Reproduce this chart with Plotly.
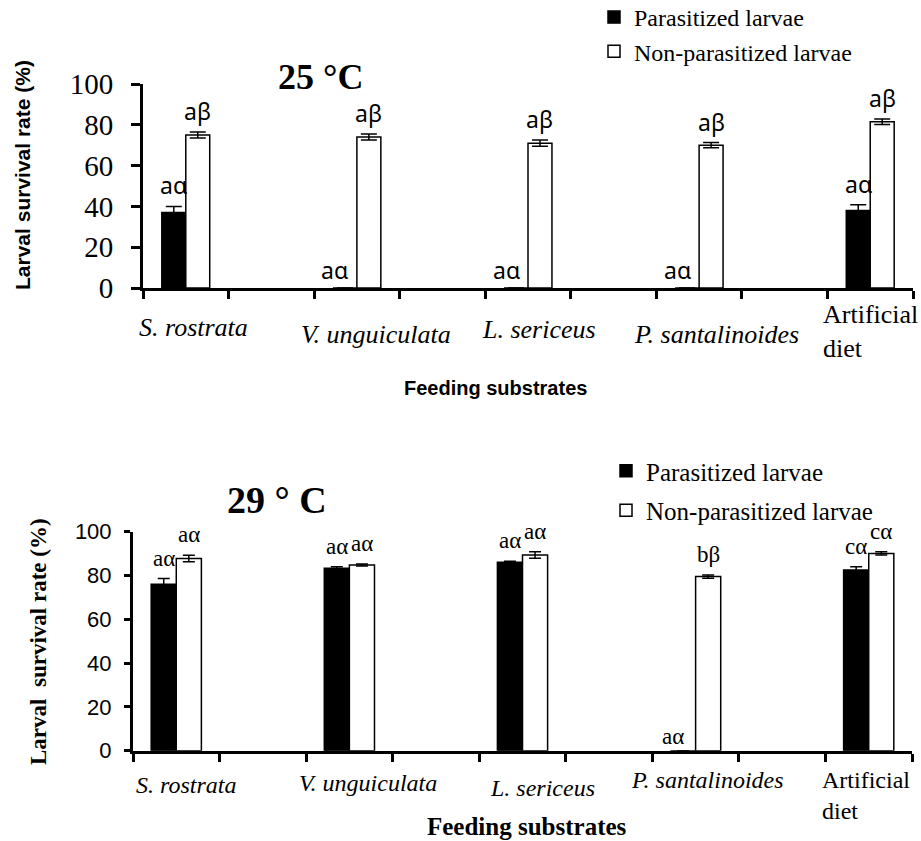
import plotly.graph_objects as go

# ---------------- data ----------------
substrates = ["S. rostrata", "V. unguiculata", "L. sericeus", "P. santalinoides", "Artificial<br>diet"]
italic_label = [True, True, True, True, False]
series_names = ["Parasitized larvae", "Non-parasitized larvae"]

# 25 °C
par25 = [37.0, 0.0, 0.0, 0.0, 38.0]
par25_err = [3.0, 0.0, 0.0, 0.0, 2.8]
non25 = [75.0, 74.0, 71.0, 70.0, 81.5]
non25_err = [1.5, 1.5, 1.5, 1.3, 1.3]
par25_lab = ["aα", "aα", "aα", "aα", "aα"]
non25_lab = ["aβ", "aβ", "aβ", "aβ", "aβ"]

# 29 °C
par29 = [76.0, 83.3, 86.0, 0.0, 82.5]
par29_err = [2.6, 0.7, 0.5, 0.0, 1.5]
non29 = [87.8, 84.8, 89.4, 79.5, 90.1]
non29_err = [1.5, 0.5, 1.5, 0.7, 0.7]
par29_lab = ["aα", "aα", "aα", "aα", "cα"]
non29_lab = ["aα", "aα", "aα", "bβ", "cα"]

y_ticks = [0, 20, 40, 60, 80, 100]

# ---------------- layout helpers ----------------
W, H = 921, 841
SERIF = "Liberation Serif"
SANS = "Liberation Sans"
CAL = "Noto Sans"

# each substrate is followed by an empty slot on the category axis
slot = [2 * i for i in range(len(substrates))]
n_slots = 2 * len(substrates) - 1
slot_edges = [k - 0.5 for k in range(n_slots + 1)]


def px(x):
    return x / W


def py(y):
    return 1 - y / H


fig = go.Figure()

panels = [
    dict(par=par25, perr=par25_err, non=non25, nerr=non25_err, plab=par25_lab, nlab=non25_lab,
         xa="x", ya="y", legend="legend", bw=0.28, cap=8,
         lab_font=dict(family=CAL, size=23, color="black"), lab_gap=3),
    dict(par=par29, perr=par29_err, non=non29, nerr=non29_err, plab=par29_lab, nlab=non29_lab,
         xa="x2", ya="y2", legend="legend2", bw=0.29, cap=6,
         lab_font=dict(family=SERIF, size=23, color="black"), lab_gap=6),
]

annotations = []
for p in panels:
    bw = p["bw"]
    for vals, errs, labs, color, name, off in [
        (p["par"], p["perr"], p["plab"], "black", series_names[0], -bw),
        (p["non"], p["nerr"], p["nlab"], "white", series_names[1], 0.0),
    ]:
        fig.add_trace(go.Bar(
            x=slot, y=vals, width=bw, offset=off, name=name,
            marker=dict(color=color, line=dict(color="black", width=1.5)),
            error_y=dict(type="data", array=errs, color="black", thickness=1.5, width=p["cap"]),
            xaxis=p["xa"], yaxis=p["ya"], legend=p["legend"], legendgroup=p["legend"] + name,
        ))
        for xs, v, e, t in zip(slot, vals, errs, labs):
            annotations.append(dict(
                x=xs + off + bw / 2, y=v + e, xref=p["xa"], yref=p["ya"], text=t,
                showarrow=False, yanchor="bottom", xanchor="center",
                yshift=p["lab_gap"] if v > 0 else 0, xshift=0 if v > 0 else -10,
                font=p["lab_font"],
            ))

# x category labels (positioned per label like the original figure)
xlab_top = dict(shift=[8, 19, 11, 17, 0], ypx=[327, 334, 329, 334, 332], size=26)
xlab_bot = dict(shift=[10, 19, 20, 12, -3], ypx=[785, 783, 788, 780, 795], size=24)
for xa, cfg in [("x", xlab_top), ("x2", xlab_bot)]:
    for xs, t, it, sh, yp in zip(slot, substrates, italic_label, cfg["shift"], cfg["ypx"]):
        annotations.append(dict(
            x=xs, y=py(yp), xref=xa, yref="paper", text=t, showarrow=False,
            xanchor="center", yanchor="middle", xshift=sh, align="left",
            font=dict(family=SERIF, size=cfg["size"], color="black",
                      style="italic" if it else "normal"),
        ))

# titles and axis titles
annotations += [
    dict(x=px(320), y=py(77), xref="paper", yref="paper", text="25 °C", showarrow=False,
         xanchor="center", yanchor="middle",
         font=dict(family=SERIF, size=36, color="black", weight="bold")),
    dict(x=px(277), y=py(500), xref="paper", yref="paper", text="29 ° C", showarrow=False,
         xanchor="center", yanchor="middle",
         font=dict(family=SERIF, size=38, color="black", weight="bold")),
    dict(x=px(22), y=py(175), xref="paper", yref="paper", text="Larval survival rate (%)",
         showarrow=False, textangle=-90, xanchor="center", yanchor="middle",
         font=dict(family=SANS, size=21, color="black", weight="bold")),
    dict(x=px(38), y=py(642), xref="paper", yref="paper", text="Larval\u00a0 survival rate (%)",
         showarrow=False, textangle=-90, xanchor="center", yanchor="middle",
         font=dict(family=SERIF, size=23, color="black", weight="bold")),
    dict(x=px(495), y=py(388), xref="paper", yref="paper", text="Feeding substrates",
         showarrow=False, xanchor="center", yanchor="middle",
         font=dict(family=SANS, size=20, color="black", weight="bold")),
    dict(x=px(527), y=py(826), xref="paper", yref="paper", text="Feeding substrates",
         showarrow=False, xanchor="center", yanchor="middle",
         font=dict(family=SERIF, size=25, color="black", weight="bold")),
]

xaxis_common = dict(
    range=[-0.5, n_slots - 0.5], tickmode="array", tickvals=slot_edges, showticklabels=False,
    ticks="outside", ticklen=8, tickwidth=3, tickcolor="black",
    showline=True, linewidth=3, linecolor="black", showgrid=False, zeroline=False, fixedrange=True,
)
yaxis_common = dict(
    range=[0, 100], tickmode="array", tickvals=y_ticks, ticks="outside", tickwidth=3,
    tickcolor="black", showline=True, linewidth=3, linecolor="black", showgrid=False,
    zeroline=False, fixedrange=True,
)

fig.update_layout(
    width=W, height=H, margin=dict(l=0, r=0, t=0, b=0, autoexpand=False),
    paper_bgcolor="white", plot_bgcolor="white",
    barmode="overlay", showlegend=True,
    xaxis=dict(xaxis_common, domain=[px(143), px(913)], anchor="y"),
    yaxis=dict(yaxis_common, domain=[py(288), py(84)], anchor="x", ticklen=9,
               ticklabelstandoff=12, tickfont=dict(family=SERIF, size=29, color="black")),
    xaxis2=dict(xaxis_common, domain=[px(133), px(912)], anchor="y2"),
    yaxis2=dict(yaxis_common, domain=[py(750.7), py(531.7)], anchor="x2", ticklen=6,
                ticklabelstandoff=8, tickfont=dict(family=SANS, size=22, color="black")),
    legend=dict(x=px(594), y=py(-5), xanchor="left", yanchor="top", bgcolor="rgba(0,0,0,0)",
                font=dict(family=SERIF, size=24, color="black"), itemclick=False,
                traceorder="grouped", tracegroupgap=0),
    legend2=dict(x=px(606), y=py(448), xanchor="left", yanchor="top", bgcolor="rgba(0,0,0,0)",
                 font=dict(family=SERIF, size=25, color="black"), itemclick=False,
                 traceorder="grouped", tracegroupgap=4),
    annotations=annotations,
)

fig.write_html("out.html")
